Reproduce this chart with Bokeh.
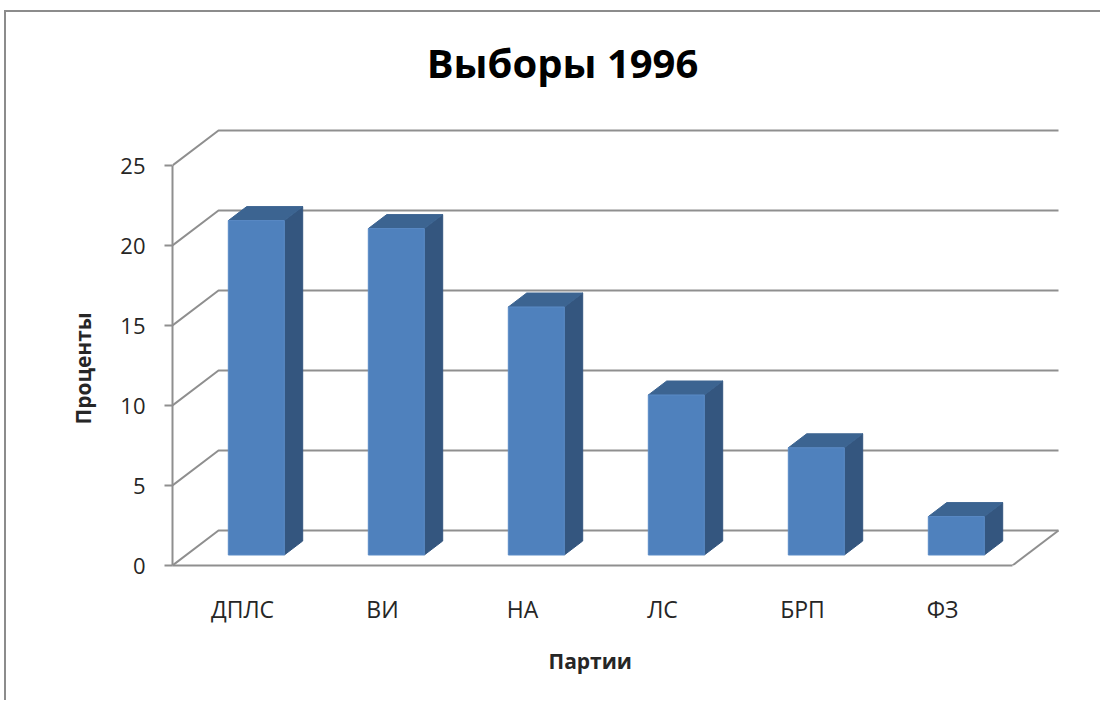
from bokeh.plotting import figure
from bokeh.models import Range1d, FixedTicker, LinearAxis, Title
from bokeh.core.properties import value
from bokeh.embed import file_html
from bokeh.resources import INLINE

# ---- data ----
title_text = "Выборы 1996"
categories = ["ДПЛС", "ВИ", "НА", "ЛС", "БРП", "ФЗ"]
percents = [20.9, 20.4, 15.5, 10.0, 6.7, 2.4]
y_ticks = [0, 5, 10, 15, 20, 25]
x_title = "Партии"
y_title = "Проценты"

# ---- layout / projection constants ----
OX, OY = 6, 12              # canvas origin on page
W, H = 1096, 690
AX_X, AX_Y = 172, 565       # page position of front-left axis origin
PX_PER_CAT = 140.0
PX_PER_VAL = 16.0
DX = 46.0 / PX_PER_CAT      # full-depth x shift (category units)
DY = 35.0 / PX_PER_VAL      # full-depth y shift (value units)
F0, F1 = 0.3, 0.7           # bar depth span
BW0, BW1 = 0.3, 0.7         # bar span within slot
n = len(categories)

ML = AX_X - OX
MT = 30 - OY
MB = H - (AX_Y - OY)
MR = W - (1062 - OX)
x_end = (W - ML - MR) / PX_PER_CAT
y_end = (H - MT - MB) / PX_PER_VAL


def px(page_x):
    return (page_x - AX_X) / PX_PER_CAT


def py(page_y):
    return (AX_Y - page_y) / PX_PER_VAL


FONT = "Open Sans"
TXT = "#262626"
GRID = "#8f8f8f"

p = figure(width=W, height=H, output_backend="svg", toolbar_location=None,
           x_range=Range1d(0, x_end), y_range=Range1d(0, y_end),
           x_axis_type=None, y_axis_type=None,
           min_border_left=ML, min_border_right=MR, min_border_top=MT, min_border_bottom=MB)
p.outline_line_color = None
p.grid.visible = False
p.background_fill_color = "white"
p.border_fill_color = "white"
p.styles = {"margin-left": "4px", "margin-top": "10px",
            "border-top": "2px solid #8c8c8c", "border-left": "2px solid #8c8c8c"}

# ---- 3D walls / gridlines ----
xs, ys = [], []
for v in y_ticks:
    xs.append([0, DX, n + DX])
    ys.append([v, v + DY, v + DY])
xs.append([n, n + DX])
ys.append([0, DY])
p.multi_line(xs, ys, line_color=GRID, line_width=2)

# ---- bars ----
lefts = [i + BW0 + F0 * DX for i in range(n)]
rights = [i + BW1 + F0 * DX for i in range(n)]
bottoms = [F0 * DY] * n
tops = [v + F0 * DY for v in percents]
dd_x = (F1 - F0) * DX
dd_y = (F1 - F0) * DY

side_x, side_y, top_x, top_y = [], [], [], []
for l, r, b, t in zip(lefts, rights, bottoms, tops):
    side_x.append([r, r + dd_x, r + dd_x, r])
    side_y.append([b, b + dd_y, t + dd_y, t])
    top_x.append([l, l + dd_x, r + dd_x, r])
    top_y.append([t, t + dd_y, t + dd_y, t])

p.patches(side_x, side_y, fill_color="#34567f", line_color="#34567f", line_width=1)
p.patches(top_x, top_y, fill_color="#3c6491", line_color="#3c6491", line_width=1)
p.quad(left=lefts, right=rights, bottom=bottoms, top=tops,
       fill_color="#4f81bd", line_color="#5a8bc6", line_width=1)

# ---- axes ----
yax = LinearAxis(ticker=FixedTicker(ticks=y_ticks), bounds=(0, y_ticks[-1]))
yax.axis_line_color = GRID
yax.axis_line_width = 2
yax.major_tick_line_color = GRID
yax.major_tick_line_width = 2
yax.major_tick_out = 8
yax.major_tick_in = 0
yax.minor_tick_line_color = None
yax.major_label_standoff = 19
yax.major_label_text_font = FONT
yax.major_label_text_font_size = "22px"
yax.major_label_text_color = TXT
p.add_layout(yax, "left")

xax = LinearAxis(ticker=FixedTicker(ticks=[i + 0.5 for i in range(n)]), bounds=(0, n))
xax.major_label_overrides = {i + 0.5: c for i, c in enumerate(categories)}
xax.axis_line_color = GRID
xax.axis_line_width = 2
xax.major_tick_line_color = None
xax.minor_tick_line_color = None
xax.major_tick_out = 0
xax.major_tick_in = 0
xax.major_label_standoff = 27
xax.major_label_text_font = FONT
xax.major_label_text_font_size = "23px"
xax.major_label_text_color = TXT
p.add_layout(xax, "below")

# ---- axis titles (placed as titles so they sit where the reference puts them) ----
xt = Title(text=x_title, align="left", offset=548 - AX_X, standoff=35,
           text_font=FONT, text_font_style="bold", text_font_size="21px", text_color=TXT)
p.add_layout(xt, "below")
yt = Title(text=y_title, align="left", offset=AX_Y - 424, standoff=42,
           text_font=FONT, text_font_style="bold", text_font_size="21px", text_color=TXT)
p.add_layout(yt, "left")

# ---- title ----
p.text(x=[px(562)], y=[py(62)], text=[title_text],
       text_align="center", text_baseline="middle", text_font=value(FONT),
       text_font_style="bold", text_font_size="40px", text_color="#000000")

open("out.html", "w").write(file_html(p, INLINE))
